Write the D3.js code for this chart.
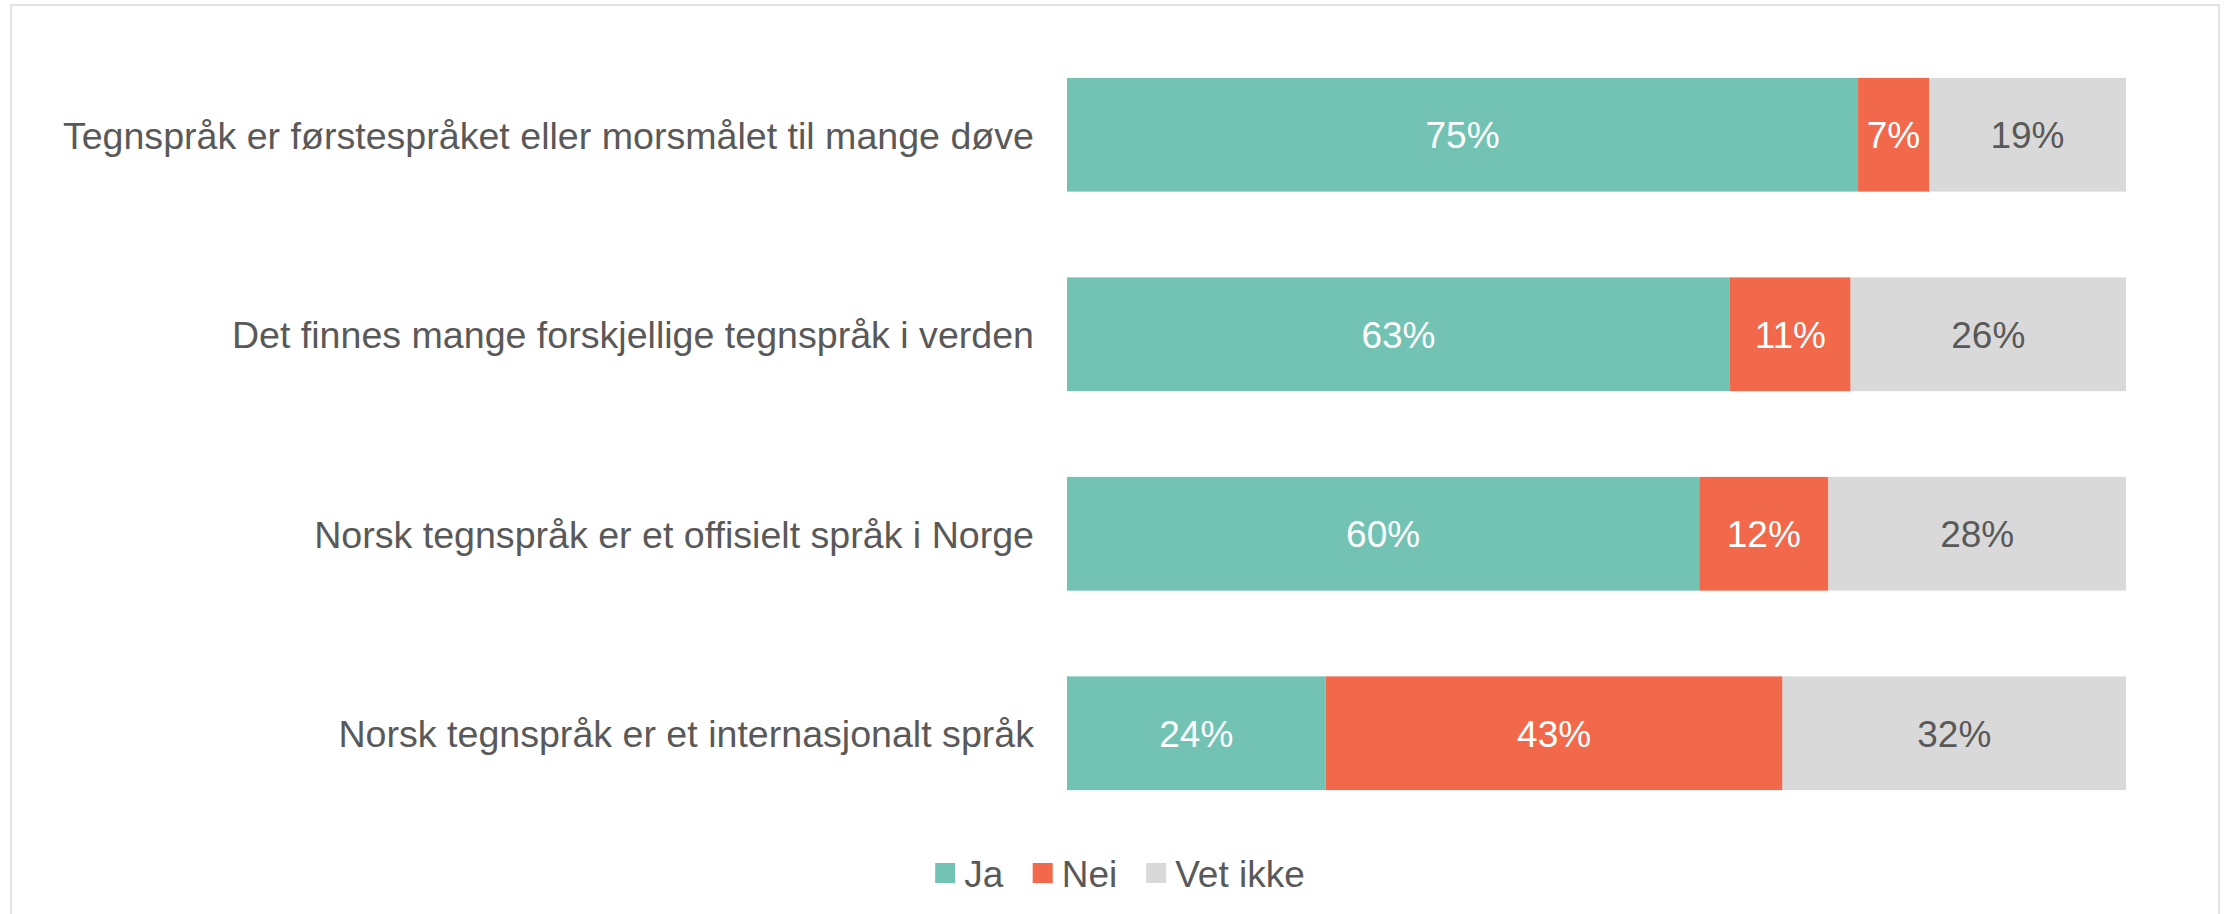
<!DOCTYPE html>
<html>
<head>
<meta charset="utf-8">
<script src="https://cdn.jsdelivr.net/npm/d3@7"></script>
<style>
  html, body { margin: 0; padding: 0; background: #fff; overflow: hidden; }
  svg { display: block; font-family: "Liberation Sans", Arial, sans-serif; }
</style>
</head>
<body>
<div id="chart"></div>
<script>
const categories = [
  'Tegnspråk er førstespråket eller morsmålet til mange døve',
  'Det finnes mange forskjellige tegnspråk i verden',
  'Norsk tegnspråk er et offisielt språk i Norge',
  'Norsk tegnspråk er et internasjonalt språk'
];
const seriesNames = ['Ja', 'Nei', 'Vet ikke'];
const ja = [74.7, 62.6, 59.7, 24.4];
const nei = [6.7, 11.4, 12.2, 43.1];
const vetIkke = [18.6, 26.0, 28.1, 32.4];

const width = 2231;
const height = 914;
const colors = ['#72c3b4', '#f2684a', '#d9d9d9'];
const labelColors = ['#ffffff', '#ffffff', '#595959'];
const textColor = '#595959';
const fontSize = 37;
const catFontSize = 37.6;

const svg = d3.select('#chart')
  .append('svg')
  .attr('width', width)
  .attr('height', height);

// chart frame
svg.append('rect')
  .attr('x', 11)
  .attr('y', 5)
  .attr('width', 2208)
  .attr('height', 1000)
  .attr('fill', '#fff')
  .attr('stroke', '#d9d9d9')
  .attr('stroke-width', 1.5);

const margin = { left: 1067, right: 2126, top: 35, bottom: 833 };

const data = categories.map((c, i) => {
  const vals = [ja[i], nei[i], vetIkke[i]];
  const total = d3.sum(vals);
  let acc = 0;
  return {
    category: c,
    parts: vals.map((v, k) => {
      const p = { key: k, value: v, x0: acc / total, x1: (acc + v) / total };
      acc += v;
      return p;
    })
  };
});

const x = d3.scaleLinear().domain([0, 1]).range([margin.left, margin.right]);
const y = d3.scaleBand()
  .domain(categories)
  .range([margin.top, margin.bottom])
  .paddingInner(0.43)
  .paddingOuter(0.215);

// category axis (no line, no ticks)
const yAxis = svg.append('g')
  .attr('transform', `translate(${margin.left - 33},0)`)
  .call(d3.axisLeft(y).tickSize(0).tickPadding(0));
yAxis.select('.domain').remove();
yAxis.selectAll('text')
  .attr('fill', textColor)
  .style('font-size', catFontSize + 'px')
  .style('font-family', '"Liberation Sans", Arial, sans-serif')
  .attr('dy', '0.37em');

const rows = svg.append('g')
  .selectAll('g')
  .data(data)
  .enter()
  .append('g');

rows.selectAll('rect')
  .data(d => d.parts.map(p => ({ ...p, category: d.category })))
  .enter()
  .append('rect')
  .attr('x', d => x(d.x0))
  .attr('y', d => y(d.category))
  .attr('width', d => x(d.x1) - x(d.x0))
  .attr('height', y.bandwidth())
  .attr('fill', d => colors[d.key]);

rows.selectAll('text')
  .data(d => d.parts.map(p => ({ ...p, category: d.category })))
  .enter()
  .append('text')
  .attr('x', d => (x(d.x0) + x(d.x1)) / 2)
  .attr('y', d => y(d.category) + y.bandwidth() / 2)
  .attr('dy', '0.37em')
  .attr('text-anchor', 'middle')
  .attr('fill', d => labelColors[d.key])
  .style('font-size', fontSize + 'px')
  .text(d => Math.round(d.value) + '%');

// legend
const legend = svg.append('g').attr('class', 'legend');
const sq = 20;
const gapText = 9;
const gapItem = 29;
const items = legend.selectAll('g')
  .data(seriesNames)
  .enter()
  .append('g');
items.append('rect')
  .attr('width', sq)
  .attr('height', sq)
  .attr('y', -sq / 2)
  .attr('fill', (d, i) => colors[i]);
items.append('text')
  .attr('x', sq + gapText)
  .attr('dy', '0.37em')
  .attr('fill', textColor)
  .style('font-size', fontSize + 'px')
  .text(d => d);

let offset = 0;
items.each(function () {
  const w = this.getBBox().width;
  d3.select(this).attr('transform', `translate(${offset},0)`);
  offset += w + gapItem;
});
const legendWidth = offset - gapItem;
legend.attr('transform', `translate(${1120 - legendWidth / 2},873)`);
</script>
</body>
</html>
